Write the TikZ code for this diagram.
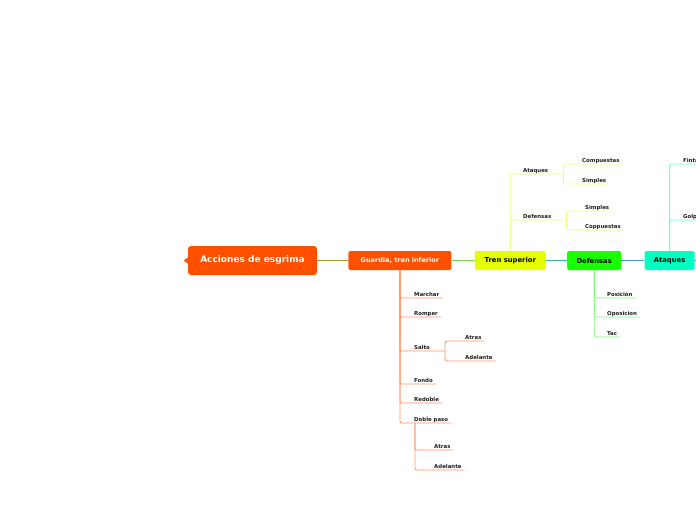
\documentclass[tikz,border=0pt]{standalone}
\usepackage{fontspec}
\setmainfont{DejaVu Sans}
\usetikzlibrary{positioning,calc}
\definecolor{Naranja}{RGB}{255,80,0}
\definecolor{NaranjaRama}{RGB}{255,145,100}
\definecolor{Amarillo}{RGB}{229,255,0}
\definecolor{AmarilloRama}{RGB}{240,255,120}
\definecolor{Verde}{RGB}{26,255,0}
\definecolor{VerdeRama}{RGB}{120,255,120}
\definecolor{Aguamarina}{RGB}{0,255,192}
\definecolor{AguaRama}{RGB}{110,255,220}
\definecolor{Oliva}{RGB}{170,150,40}
\definecolor{VerdeLima}{RGB}{120,210,80}
\definecolor{Turquesa}{RGB}{50,180,160}
\definecolor{AzulClaro}{RGB}{70,150,230}
\definecolor{TextoHoja}{RGB}{30,30,30}
\tikzset{
  raizbox/.style={fill=Naranja, rounded corners=3pt, text=white,
    font=\fontsize{9}{10}\selectfont\bfseries, minimum width=129pt, minimum height=29pt, inner sep=0pt},
  temabox/.style={fill=#1, rounded corners=2pt,
    font=\fontsize{6.8}{8}\selectfont\bfseries, minimum height=19pt, inner sep=0pt},
  hoja/.style={anchor=south west, font=\fontsize{5.4}{6}\selectfont\bfseries, text=TextoHoja,
    inner xsep=3pt, inner ysep=0.8pt, text height=4pt, text depth=0.8pt},
  rama/.style={draw=#1, line width=0.8pt, rounded corners=2pt},
  conector/.style={draw=#1, line width=1.2pt},
}
\begin{document}
\begin{tikzpicture}[x=1pt, y=-1pt]
  \useasboundingbox (0,0) rectangle (696,520);
  \clip (0,0) rectangle (696,520);
  % ---- nodos principales ----
  \node[raizbox] (raiz) at (252.5,260.5) {Acciones de esgrima};
  \fill[Naranja] ([yshift=3pt]raiz.west) -- ++(-4,3) -- ++(4,3) -- cycle;
  \node[temabox=Naranja, text=white, minimum width=103pt, font=\fontsize{6.5}{8}\selectfont\bfseries,
    right=31pt of raiz] (guardia) {Guardia, tren inferior};
  \node[temabox=Amarillo, minimum width=71pt, right=23pt of guardia] (tren) {Tren superior};
  \node[temabox=Verde, minimum width=54pt, right=21pt of tren] (defensas) {Defensas};
  \node[temabox=Aguamarina, minimum width=50pt, right=23pt of defensas] (ataques) {Ataques};
  \coordinate (fuera) at (702,260.5);
  \draw[conector=Oliva] (raiz) -- (guardia);
  \draw[conector=VerdeLima] (guardia) -- (tren);
  \draw[conector=Turquesa] (tren) -- (defensas);
  \draw[conector=AzulClaro] (defensas) -- (ataques);
  \draw[conector=AzulClaro] (ataques) -- (fuera);
  % ---- guardia, tren inferior ----
  \node[hoja] (marchar) at (411,298) {Marchar};
  \node[hoja] (romper) at (411,317) {Romper};
  \node[hoja] (salto) at (411,351) {Salto};
  \node[hoja] (fondo) at (411,384) {Fondo};
  \node[hoja] (redoble) at (411,403) {Redoble};
  \node[hoja] (doble) at (411,423) {Doble paso};
  \coordinate (saltofin) at ([xshift=12pt]salto.south east);
  \coordinate (dobleini) at ([xshift=4pt]doble.south west);
  \node[hoja] (saltoatras) at (462,341) {Atras};
  \node[hoja] (saltoadelante) at (462,361) {Adelante};
  \node[hoja] (dobleatras) at (431,450) {Atras};
  \node[hoja] (dobleadelante) at (431,470) {Adelante};
  \foreach \h in {marchar,romper,fondo,redoble,doble}
    \draw[rama=NaranjaRama] (guardia.south) |- (\h.south east);
  \draw[rama=NaranjaRama] (guardia.south) |- (saltofin);
  \draw[rama=NaranjaRama] (saltofin) |- (saltoatras.south east);
  \draw[rama=NaranjaRama] (saltofin) |- (saltoadelante.south east);
  \draw[rama=NaranjaRama] (dobleini) |- (dobleatras.south east);
  \draw[rama=NaranjaRama] (dobleini) |- (dobleadelante.south east);
  % ---- tren superior ----
  \node[hoja] (tataques) at (520,174) {Ataques};
  \node[hoja] (tdefensas) at (520,220) {Defensas};
  \coordinate (tataquesfin) at ([xshift=12pt]tataques.south east);
  \coordinate (tdefensasfin) at ([xshift=12pt]tdefensas.south east);
  \node[hoja] (compuestas) at (579,164) {Compuestas};
  \node[hoja] (tsimples) at (579,184) {Simples};
  \node[hoja] (dsimples) at (582,211) {Simples};
  \node[hoja] (coppuestas) at (582,230) {Coppuestas};
  \draw[rama=AmarilloRama] (tren.north) |- (tataquesfin);
  \draw[rama=AmarilloRama] (tren.north) |- (tdefensasfin);
  \draw[rama=AmarilloRama] (tataquesfin) |- (compuestas.south east);
  \draw[rama=AmarilloRama] (tataquesfin) |- (tsimples.south east);
  \draw[rama=AmarilloRama] (tdefensasfin) |- (dsimples.south east);
  \draw[rama=AmarilloRama] (tdefensasfin) |- (coppuestas.south east);
  % ---- defensas ----
  \node[hoja] (posicion) at (604,298) {Posición};
  \node[hoja] (oposicion) at (604,317) {Oposicion};
  \node[hoja] (tac) at (604,337) {Tac};
  \foreach \h in {posicion,oposicion,tac}
    \draw[rama=VerdeRama] (defensas.south) |- (\h.south east);
  % ---- ataques ----
  \node[hoja] (finta) at (680,164) {Finta};
  \node[hoja] (golpe) at (680,220) {Golpe};
  \coordinate (fintafin) at ([xshift=12pt]finta.south east);
  \coordinate (golpefin) at ([xshift=12pt]golpe.south east);
  \draw[rama=AguaRama] (ataques.north) |- (fintafin);
  \draw[rama=AguaRama] (ataques.north) |- (golpefin);
\end{tikzpicture}
\end{document}
